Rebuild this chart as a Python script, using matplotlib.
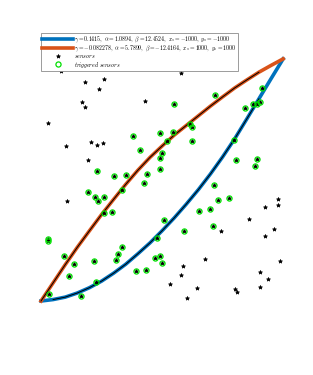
#!/usr/bin/env python3
# -*- coding: utf-8 -*-
import numpy as np
import matplotlib
matplotlib.use("Agg")
import matplotlib.pyplot as plt

plt.rcParams["mathtext.fontset"] = "cm"

# ---- data
# sensor positions that were not triggered
sens_x = [-835, -62, 156, -637, -480, -525, -661, -637, -141, -946, -587, -540, -485,
          -792, -610, -783, 960, 960, 848, 716, 925, 853, 484, 972, 355, 170, 154, 66,
          286, 204, 807, 875, 807, 601, 621]
sens_y = [896, 929, 881, 807, 831, 754, 641, 600, 656, 472, 311, 290, 308, 282, 162,
          -174, -158, -211, -226, -321, -403, -467, -424, -666, -651, -708, -789, -862,
          -889, -974, -763, -816, -884, -901, -926]

# triggered sensors
trig_x = [823, 440, 96, 688, 754, 782, 809, 231, 245, 93, -21, -243, 42, 247, -182, 0,
          -21, 594, 611, 782, 770, -540, -21, -122, -298, -397, -152, 427, -614, -333,
          -550, -527, -480, 460, 555, -480, -411, 394, 303, 16, 423, 185, -42, -946,
          -940, -333, -367, -808, -382, -57, -15, 0, -730, -560, -769, -214, -131, -548,
          -666, -930]
trig_y = [757, 703, 630, 596, 631, 631, 644, 458, 435, 398, 388, 360, 323, 324, 251, 225,
          181, 330, 162, 175, 113, 71, 88, 47, 37, 34, -27, -42, -97, -86, -141, -170,
          -143, -162, -148, -269, -261, -238, -254, -329, -381, -424, -476, -484, -504,
          -552, -608, -626, -660, -647, -626, -682, -696, -672, -794, -751, -742, -841,
          -961, -940]

# fitted fronts
front_x = [-1000, -900, -800, -700, -600, -500, -400, -300, -200, -100, 0,
           100, 200, 300, 400, 500, 600, 700, 800, 900, 1000]
front1_y = [-1000, -988, -968, -934, -890, -836, -770, -696, -610, -520, -420,
            -314, -200, -80, 50, 190, 340, 504, 670, 836, 1000]
front2_y = [-1000, -850, -700, -556, -420, -286, -160, -36, 80, 186, 280,
            370, 450, 530, 610, 686, 760, 826, 890, 946, 1000]

label1 = r"$\gamma=0.1415,\ \alpha=1.0894,\ \beta=12.4524,\ x_s=-1000,\ y_s=-1000$"
label2 = r"$\gamma=-0.082278,\ \alpha=5.7899,\ \beta=-12.4164,\ x_s=1000,\ y_s=1000$"

# ---- figure
fig = plt.figure(figsize=(3.13, 3.75), dpi=100)
ax = fig.add_axes([0, 0, 1, 1])
ax.axis("off")

ax.plot(front_x, front1_y, color="#0072BD", lw=2.6, label=label1, zorder=2)
ax.plot(front_x[1:-2], front1_y[1:-2], color="black", lw=0.7, zorder=3)
ax.plot(front_x, front2_y, color="#D95319", lw=2.6, label=label2, zorder=2)
ax.plot(front_x[:-2], front2_y[:-2], color="black", lw=0.7, zorder=3)

all_x = np.concatenate([sens_x, trig_x])
all_y = np.concatenate([sens_y, trig_y])
ax.plot(all_x, all_y, ls="none", marker="*", ms=3.0, color="black",
        mew=0.5, label=r"$sensors$", zorder=4)
ax.plot(trig_x, trig_y, ls="none", marker="o", ms=3.7, mfc="none",
        mec="#00e000", mew=0.9, label=r"$triggered\ sensors$", zorder=5)

ax.set_xlim(-1338.7, 1246.7)
ax.set_ylim(-1611.2, 1486.3)

leg = ax.legend(loc="upper left", bbox_to_anchor=(0.131, 0.912),
                bbox_transform=fig.transFigure, borderaxespad=0,
                fontsize=4.2, handlelength=5.3, fancybox=False,
                framealpha=1, edgecolor="0.55", borderpad=0.2,
                labelspacing=-0.15, handletextpad=0.2)
leg.get_frame().set_linewidth(0.6)

fig.savefig("out.png", dpi=100)
